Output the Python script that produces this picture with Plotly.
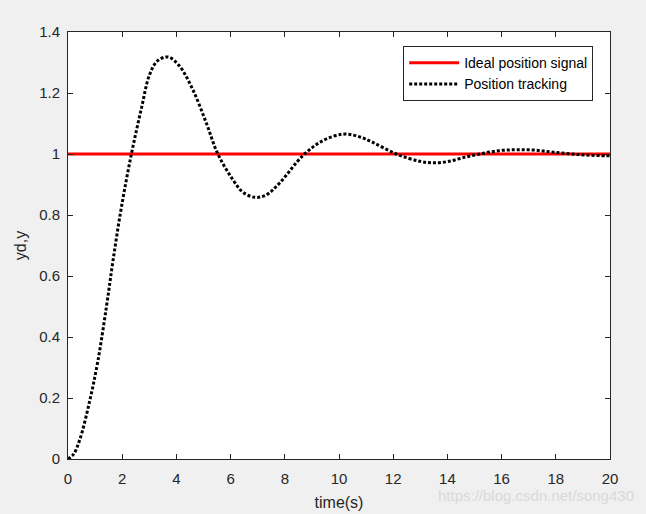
import plotly.graph_objects as go

# Ideal position signal
yd_t = [0, 20]
yd_v = [1, 1]

# Position tracking
t = [0, 0.2, 0.43, 0.8, 1.1, 1.42, 1.66, 1.97, 2.34, 2.71, 3.01, 3.3, 3.69, 4.1,
     4.61, 5.11, 5.53, 6.09, 6.45, 6.89, 7.3, 7.81, 8.67, 9.41, 10.15, 10.7,
     11.25, 12.12, 12.98, 13.47, 14.0, 14.58, 15.19, 15.9, 16.55, 17.2, 17.9,
     18.88, 19.87, 20]
y = [0, 0.015, 0.062, 0.19, 0.32, 0.50, 0.65, 0.825, 1.0, 1.15, 1.26, 1.305,
     1.318, 1.29, 1.21, 1.10, 1.0, 0.915, 0.875, 0.858, 0.865, 0.905, 0.995,
     1.044, 1.065, 1.058, 1.038, 1.0, 0.976, 0.971, 0.975, 0.988, 1.0, 1.011,
     1.014, 1.013, 1.006, 0.998, 0.994, 0.994]

x_ticks = [0, 2, 4, 6, 8, 10, 12, 14, 16, 18, 20]
y_ticks = [0, 0.2, 0.4, 0.6, 0.8, 1, 1.2, 1.4]
y_tick_text = ["0", "0.2", "0.4", "0.6", "0.8", "1", "1.2", "1.4"]

font = "Liberation Sans, Arial, sans-serif"
axc = "#262626"

fig = go.Figure()
fig.add_trace(go.Scatter(x=yd_t, y=yd_v, mode="lines", name="Ideal position signal",
                         line=dict(color="#ff0000", width=3)))
fig.add_trace(go.Scatter(x=t, y=y, mode="lines", name="Position tracking",
                         line=dict(color="#000000", width=3, dash="3px,2px", shape="spline")))

axis_common = dict(showgrid=False, zeroline=False, showline=True, linecolor=axc, linewidth=1,
                   mirror="allticks", ticks="inside", ticklen=5, tickcolor=axc,
                   automargin=False,
                   tickfont=dict(family=font, size=15, color=axc))

fig.update_xaxes(range=[0, 20], tickvals=x_ticks, ticklabelstandoff=6, **axis_common,
                 title=dict(text="time(s)", font=dict(family=font, size=16, color=axc), standoff=10))
fig.update_yaxes(range=[0, 1.4], tickvals=y_ticks, ticktext=y_tick_text, ticklabelstandoff=4,
                 **axis_common,
                 title=dict(text="yd,y", font=dict(family=font, size=16, color=axc), standoff=8))

fig.update_layout(
    width=646, height=514,
    margin=dict(l=68, r=36, t=32, b=55),
    paper_bgcolor="#f0f0f0", plot_bgcolor="#ffffff",
    showlegend=True,
    legend=dict(x=0.969, y=0.967, xanchor="right", yanchor="top",
                bgcolor="#ffffff", bordercolor="#262626", borderwidth=1,
                font=dict(family=font, size=14, color="#000000"),
                tracegroupgap=0, itemwidth=50),
    annotations=[dict(text="https://blog.csdn.net/song430", xref="paper", yref="paper",
                      x=1.048, y=-0.085, xanchor="right", yanchor="middle", showarrow=False,
                      font=dict(family=font, size=15, color="#d9d9d9"))],
)

fig.write_html("out.html")
